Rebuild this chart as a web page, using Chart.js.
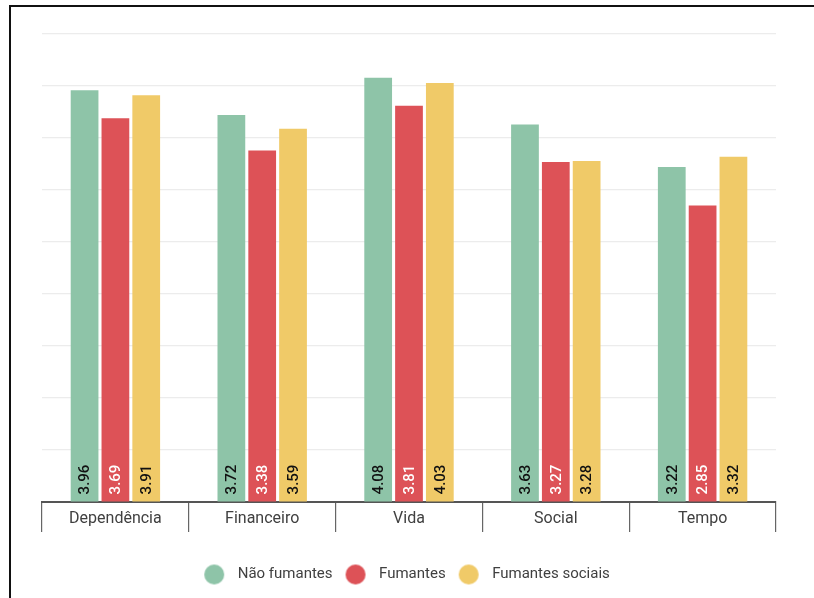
<!DOCTYPE html>
<html><head><meta charset="utf-8">
<script src="https://cdn.jsdelivr.net/npm/chart.js@4.4.1/dist/chart.umd.min.js"></script>
<style>
html,body{margin:0;padding:0;background:#fff;overflow:hidden}
#wrap{position:relative;width:814px;height:598px}
#frame{position:absolute;left:9px;top:5px;width:900px;height:700px;border:2px solid #111;box-sizing:border-box;pointer-events:none}
canvas{position:absolute;left:0;top:0}
</style></head><body>
<div id="wrap"><canvas id="c" width="814" height="598"></canvas><div id="frame"></div></div>
<script>
const categories = ['Dependência', 'Financeiro', 'Vida', 'Social', 'Tempo'];
const naoFumantes = [3.96, 3.72, 4.08, 3.63, 3.22];
const fumantes = [3.69, 3.38, 3.81, 3.27, 2.85];
const fumantesSociais = [3.91, 3.59, 4.03, 3.28, 3.32];
const seriesNames = ['Não fumantes', 'Fumantes', 'Fumantes sociais'];

const colors = ['#8ec4a8', '#dd5257', '#f0ca68'];
const valueTextColors = ['#111111', '#ffffff', '#111111'];
const FONT = 'Roboto';

// legend marker: a circle drawn left of the image centre so the label gets more room
function legendDot(color) {
  const c = document.createElement('canvas');
  c.width = 34; c.height = 22;
  const g = c.getContext('2d');
  g.fillStyle = color;
  g.beginPath();
  g.arc(12, 11, 10, 0, Math.PI * 2);
  g.fill();
  return c;
}
const dots = colors.map(legendDot);

// value labels written vertically at the foot of each bar
const valueLabels = {
  id: 'valueLabels',
  afterDatasetsDraw(chart) {
    const ctx = chart.ctx;
    ctx.save();
    ctx.font = '500 15px ' + FONT;
    ctx.textAlign = 'left';
    ctx.textBaseline = 'middle';
    chart.data.datasets.forEach((ds, i) => {
      const meta = chart.getDatasetMeta(i);
      meta.data.forEach((bar, j) => {
        ctx.save();
        ctx.translate(bar.x, bar.base - 7);
        ctx.rotate(-Math.PI / 2);
        ctx.fillStyle = valueTextColors[i];
        ctx.fillText(ds.data[j].toFixed(2), 0, 1);
        ctx.restore();
      });
    });
    ctx.restore();
  }
};

const seriesData = [naoFumantes, fumantes, fumantesSociais];

new Chart(document.getElementById('c'), {
  type: 'bar',
  data: {
    labels: categories,
    datasets: seriesData.map((d, i) => ({
      label: seriesNames[i],
      data: d,
      backgroundColor: colors[i],
      borderWidth: 0,
      categoryPercentage: 0.63,
      barPercentage: 0.9
    }))
  },
  options: {
    responsive: false,
    animation: false,
    layout: { padding: { left: 42, right: 38, top: 34, bottom: 6 } },
    scales: {
      x: {
        grid: {
          offset: true,
          drawOnChartArea: false,
          drawTicks: true,
          tickLength: 30,
          color: '#666666',
          lineWidth: 1.2
        },
        border: { display: true, color: '#555555', width: 2 },
        ticks: {
          color: '#404040',
          font: { family: FONT, size: 16 },
          padding: -23,
          maxRotation: 0
        },
        afterFit(scale) { scale.height = 48; }
      },
      y: {
        min: 0,
        max: 4.5,
        ticks: { display: false, stepSize: 0.5 },
        grid: { color: '#ececec', lineWidth: 1.2, drawTicks: false },
        border: { display: false }
      }
    },
    plugins: {
      tooltip: { enabled: false },
      legend: {
        position: 'bottom',
        labels: {
          usePointStyle: true,
          pointStyleWidth: 22,
          padding: 17,
          color: '#404040',
          font: { family: FONT, size: 15 },
          generateLabels(chart) {
            const items = Chart.defaults.plugins.legend.labels.generateLabels(chart);
            items.forEach((it, i) => { it.pointStyle = dots[i]; });
            return items;
          }
        }
      }
    }
  },
  plugins: [valueLabels]
});
</script>
</body></html>
